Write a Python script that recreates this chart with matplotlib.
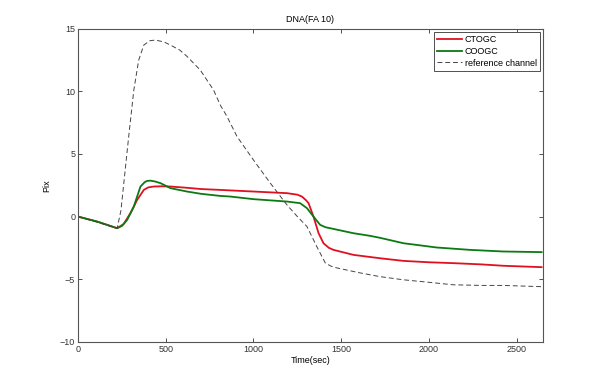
import matplotlib
matplotlib.use('Agg')
import matplotlib.pyplot as plt

# Reference channel (dashed)
ref_t = [0, 110, 223, 245, 261, 289, 318, 346, 375, 410, 441, 490, 527, 580, 621, 697,
         773, 811, 849, 906, 1001, 1096, 1191, 1250, 1305, 1361, 1409, 1440, 1475, 1608,
         1722, 1855, 2000, 2139, 2300, 2424, 2642]
ref_v = [0.0, -0.45, -0.93, 0.5, 2.67, 6.4, 10.1, 12.5, 13.7, 14.05, 14.1, 13.95, 13.7, 13.3,
         12.8, 11.7, 10.1, 8.9, 8.0, 6.4, 4.5, 2.67, 0.93, 0.0, -0.8, -2.4, -3.7, -3.95, -4.1,
         -4.5, -4.8, -5.05, -5.25, -5.45, -5.5, -5.5, -5.6]

# CTOGC (red)
ctogc_t = [0, 109, 223, 260, 300, 337, 375, 400, 432, 480, 527, 621, 700, 811, 1001, 1191,
           1250, 1276, 1300, 1314, 1342, 1371, 1399, 1430, 1456, 1570, 1722, 1855, 2000,
           2139, 2300, 2424, 2642]
ctogc_v = [0.0, -0.4, -0.93, -0.6, 0.3, 1.33, 2.13, 2.33, 2.4, 2.42, 2.4, 2.3, 2.2, 2.13, 2.0,
           1.87, 1.75, 1.6, 1.3, 1.07, 0.0, -1.33, -2.13, -2.5, -2.66, -3.06, -3.33, -3.54,
           -3.65, -3.72, -3.82, -3.93, -4.04]

# COOGC (green)
coogc_t = [0, 109, 223, 250, 280, 318, 356, 380, 394, 413, 440, 470, 527, 621, 700, 811,
           868, 1001, 1191, 1266, 1305, 1342, 1380, 1410, 1437, 1570, 1665, 1722, 1855,
           2044, 2234, 2424, 2642]
coogc_v = [0.0, -0.4, -0.93, -0.75, -0.27, 0.8, 2.4, 2.75, 2.85, 2.87, 2.8, 2.67, 2.27, 2.0,
           1.82, 1.65, 1.6, 1.39, 1.2, 1.07, 0.67, 0.0, -0.66, -0.85, -0.93, -1.33, -1.54,
           -1.7, -2.13, -2.47, -2.66, -2.79, -2.84]

plt.rcParams['font.family'] = ['Liberation Sans', 'DejaVu Sans']
plt.rcParams['font.size'] = 6.5

fig = plt.figure(figsize=(6, 3.84), dpi=100)
ax = fig.add_axes([0.13, 0.11, 0.775, 0.815])

ax.plot(ctogc_t, ctogc_v, color='#e01020', linewidth=1.3, label='CTOGC')
ax.plot(coogc_t, coogc_v, color='#0b7a12', linewidth=1.3, label='COOGC')
ax.plot(ref_t, ref_v, color='#444444', linewidth=0.7, linestyle=(0, (5, 3)),
        label='reference channel')

ax.set_xlim(0, 2650)
ax.set_ylim(-10, 15)
ax.set_xticks([0, 500, 1000, 1500, 2000, 2500])
ax.set_yticks([-10, -5, 0, 5, 10, 15])
ax.tick_params(direction='in', top=True, right=True, length=3, width=0.6,
               colors='#333333', labelsize=6.5, pad=2)
for s in ax.spines.values():
    s.set_color('#555555')
    s.set_linewidth(0.8)

ax.set_title('DNA(FA 10)', fontsize=6.5, pad=5)
ax.set_xlabel('Time(sec)', fontsize=6.5, labelpad=2)
ax.set_ylabel('Pix', fontsize=6.5, labelpad=6)

leg = ax.legend(loc='upper right', fontsize=6.5, fancybox=False, framealpha=1,
                edgecolor='#333333', handlelength=2.8, handletextpad=0.3,
                borderaxespad=0.35, labelspacing=0.3, borderpad=0.35)
leg.get_frame().set_linewidth(0.6)

fig.savefig('out.png', dpi=100)
